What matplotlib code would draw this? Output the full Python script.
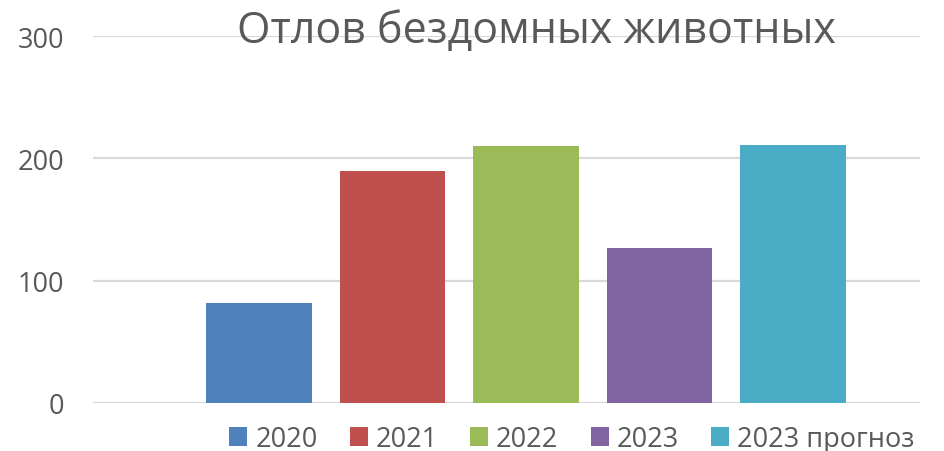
import matplotlib
matplotlib.use("Agg")
import matplotlib.pyplot as plt
from matplotlib.patches import Patch

series = ["2020", "2021", "2022", "2023", "2023 прогноз"]
values = [82, 190, 210, 127, 211]
colors = ["#4F81BD", "#C0504D", "#9BBB59", "#8064A2", "#4BACC6"]
title = "Отлов бездомных животных"
yticks = [0, 100, 200, 300]

plt.rcParams['font.family'] = ['Open Sans', 'DejaVu Sans']
txt = "#595959"

fig = plt.figure(figsize=(9.45, 4.52), dpi=100)
ax = fig.add_axes([93/945, 48/452, (920-93)/945, (404-37)/452])

x = list(range(len(series)))
ax.bar(x, values, width=0.79, color=colors, zorder=3)
ax.set_xlim(-1.244, 4.951)
ax.set_ylim(0, 300)
ax.set_yticks(yticks)
ax.set_yticklabels([str(v) for v in yticks])
ax.set_xticks([])
ax.tick_params(axis='y', length=0, pad=21, labelsize=19.5, labelcolor=txt)
ax.grid(axis='y', color="#D9D9D9", linewidth=1.6, zorder=0)
for s in ax.spines.values():
    s.set_visible(False)

fig.text(536/945, 1 - 32/452, title, ha='center', va='center', fontsize=31, color=txt)

handles = [Patch(facecolor=c, edgecolor='none') for c in colors]
fig.legend(handles, series, loc='center', bbox_to_anchor=(572/945, 1 - 440/452), ncol=5,
           frameon=False, fontsize=19.5, labelcolor=txt, handlelength=0.65, handleheight=0.65,
           handletextpad=0.3, columnspacing=1.2, borderpad=0)

fig.savefig("out.png", dpi=100)
